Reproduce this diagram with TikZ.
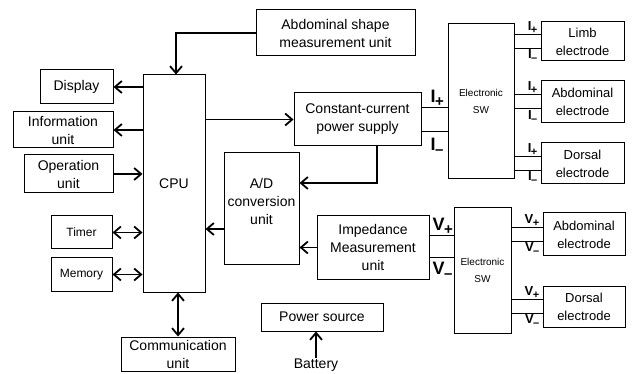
\documentclass[tikz,border=0pt]{standalone}
\usepackage{fontspec}
\setmainfont{Liberation Sans}
\usetikzlibrary{arrows.meta,positioning,calc}
\newcommand{\sgn}[3]{#1\raisebox{-#3pt}{\fontsize{#2}{#2}\selectfont\kern-0.5pt+}}
\newcommand{\sgm}[3]{#1\raisebox{-#3pt}{\fontsize{#2}{#2}\selectfont\kern-0.5pt--}}
\tikzset{
  blk/.style={draw,line width=1pt,align=center,inner sep=1pt,font=\fontsize{14}{18}\selectfont},
  wh/.style 2 args={minimum width=#1pt,minimum height=#2pt},
  arr/.style={line width=1.8pt,-{Straight Barb[length=7pt,width=12pt]}},
  darr/.style={line width=1.8pt,{Straight Barb[length=7pt,width=12pt]}-{Straight Barb[length=7pt,width=12pt]}},
  wire/.style={line width=1pt},
  sig/.style={font=\bfseries\fontsize{13}{13}\selectfont,inner sep=1pt},
  bigsig/.style={font=\bfseries\fontsize{18}{18}\selectfont,inner sep=1pt},
}

\begin{document}
\begin{tikzpicture}[x=1pt,y=-1pt]
  \useasboundingbox (0,0) rectangle (632,374);
  % left side
  \node[blk,wh={62}{217}] (cpu) at (174,183.5) {CPU};
  \node[blk,wh={159}{46}] (abd) at (335.5,33) {Abdominal shape\\measurement unit};
  \node[blk,wh={73}{34}] (disp) at (76.5,87) {Display};
  \node[blk,wh={100}{36}] (info) at (63,130) {Information\\unit};
  \node[blk,wh={89}{38}] (oper) at (68.5,174) {Operation\\unit};
  \node[blk,wh={61}{33},font=\fontsize{12}{14}\selectfont] (tim) at (81.5,232.5) {Timer};
  \node[blk,wh={61}{33},font=\fontsize{12}{14}\selectfont] (mem) at (81.5,274.5) {Memory};
  \node[blk,wh={114}{34}] (comm) at (178,354) {Communication\\unit};
  % middle
  \node[blk,wh={127}{53}] (cc) at (357.5,119.5) {Constant-current\\power supply};
  \node[blk,wh={75}{112}] (ad) at (261.5,209) {A/D\\conversion\\unit\\[-2pt]\mbox{}};
  \node[blk,wh={112}{63}] (imp) at (373,247.5) {Impedance\\Measurement\\unit};
  \node[blk,wh={122}{28}] (pwr) at (322,317) {Power source};
  \node[font=\fontsize{14}{16}\selectfont,inner sep=1pt] (bat) at (316,365) {Battery};
  % switches and electrodes
  \node[blk,wh={66}{155},font=\fontsize{10}{17}\selectfont] (swa) at (481,101.5) {Electronic\\SW};
  \node[blk,wh={57}{125},font=\fontsize{10}{17}\selectfont] (swb) at (482.5,270.5) {Electronic\\SW};
  \node[blk,wh={83}{39},font=\fontsize{13}{18}\selectfont] (limb) at (582.5,41.5) {Limb\\electrode};
  \node[blk,wh={83}{42},font=\fontsize{13}{18}\selectfont] (abea) at (582.5,102) {Abdominal\\electrode};
  \node[blk,wh={83}{41},font=\fontsize{13}{18}\selectfont] (dora) at (582.5,163.5) {Dorsal\\electrode};
  \node[blk,wh={82}{43},font=\fontsize{13}{18}\selectfont] (abeb) at (584,234.5) {Abdominal\\electrode};
  \node[blk,wh={82}{41},font=\fontsize{13}{18}\selectfont] (dorb) at (584,306.5) {Dorsal\\electrode};

  % arrows
  \draw[arr] (abd.west) -| ([xshift=2pt]cpu.north);
  \draw[arr] (cpu.west |- disp.east) -- (disp.east);
  \draw[arr] (cpu.west |- info.east) -- (info.east);
  \draw[arr] (oper.east) -- (oper.east -| cpu.west);
  \draw[darr] (tim.east) -- (tim.east -| cpu.west);
  \draw[darr] (mem.east) -- (mem.east -| cpu.west);
  \draw[darr] (comm.north) -- (comm.north |- cpu.south);
  \draw[arr] (cpu.east |- cc.west) -- (cc.west);
  \draw[arr] ([xshift=19.5pt]cc.south) |- ([yshift=26pt]ad.east);
  \coordinate (adout) at ([yshift=-20pt]ad.west);
  \draw[arr] (adout) -- (adout -| cpu.east);
  \draw[arr] (imp.west) -- (imp.west -| ad.east);
  \draw[arr] (bat.north) -- (bat.north |- pwr.south);

  % current and voltage lines
  \coordinate (ip) at ([yshift=12pt]cc.east);
  \coordinate (im) at ([yshift=-12pt]cc.east);
  \draw[wire] (ip) -- (ip -| swa.west);
  \draw[wire] (im) -- (im -| swa.west);
  \node[bigsig,above right=0pt and 8pt of ip] {\sgn{I}{15}{4}};
  \node[bigsig,below right=5pt and 8pt of im] {\sgm{I}{15}{4}};
  \coordinate (vp) at ([yshift=12pt]imp.east);
  \coordinate (vm) at ([yshift=-10pt]imp.east);
  \draw[wire] (vp) -- (vp -| swb.west);
  \draw[wire] (vm) -- (vm -| swb.west);
  \node[bigsig,above right=0pt and 2pt of vp] {\sgn{V}{15}{4}};
  \node[bigsig,below right=3pt and 2pt of vm] {\sgm{V}{15}{4}};
  \foreach \e/\sw/\s in {limb/swa/I,abea/swa/I,dora/swa/I,abeb/swb/V,dorb/swb/V}{
    \draw[wire] ([yshift=7pt]\e.west) coordinate (p) -- (p -| \sw.east);
    \draw[wire] ([yshift=-7pt]\e.west) coordinate (q) -- (q -| \sw.east);
    \node[sig,above left=0pt and 2pt of p] {\sgn{\s}{11}{3}};
    \node[sig,below left=0pt and 2pt of q] {\sgm{\s}{11}{3}};
  }
\end{tikzpicture}
\end{document}
